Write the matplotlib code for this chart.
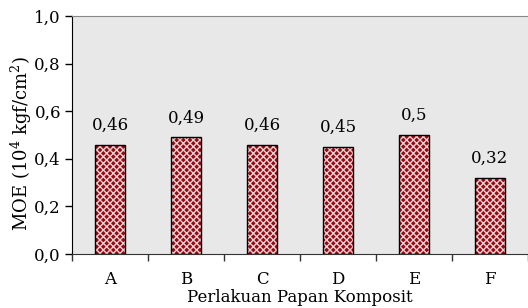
import matplotlib
matplotlib.use("Agg")
import matplotlib.pyplot as plt
import numpy as np

categories = ["A", "B", "C", "D", "E", "F"]
values = [0.46, 0.49, 0.46, 0.45, 0.5, 0.32]
value_labels = ["0,46", "0,49", "0,46", "0,45", "0,5", "0,32"]
yticks = [0.0, 0.2, 0.4, 0.6, 0.8, 1.0]
ytick_labels = ["0,0", "0,2", "0,4", "0,6", "0,8", "1,0"]

plt.rcParams['font.family'] = ['DejaVu Serif']
plt.rcParams['mathtext.fontset'] = 'dejavuserif'
plt.rcParams['hatch.linewidth'] = 1.0

FS = 12

fig = plt.figure(figsize=(5.28, 3.08), dpi=100)
ax = fig.add_axes([72/528, 54/308, 456/528, 238/308])
ax.set_facecolor('#e8e8e8')

x = np.arange(len(categories))
ax.bar(x, values, width=0.4, color='#920a14', edgecolor='#f0d0d0', hatch='xxxxx', linewidth=0, zorder=2)
ax.bar(x, values, width=0.4, fill=False, edgecolor='black', linewidth=1.0, zorder=3)

for xi, v, lab in zip(x, values, value_labels):
    ax.text(xi, v + 0.045, lab, ha='center', va='bottom', fontsize=FS)

ax.set_xlim(-0.5, len(categories) - 0.5)
ax.set_ylim(0, 1.0)
ax.set_yticks(yticks)
ax.set_yticklabels(ytick_labels, fontsize=FS)
ax.set_xticks(np.arange(len(categories) + 1) - 0.5)
ax.set_xticklabels([])
ax.set_xticks(x, minor=True)
ax.set_xticklabels(categories, minor=True, fontsize=FS)
ax.tick_params(axis='x', which='minor', length=0, pad=12)
ax.tick_params(axis='x', which='major', length=5, direction='out', width=1, color='#333333')
ax.tick_params(axis='y', length=5, direction='out', width=1, pad=3)

ax.spines['left'].set_color('black')
ax.spines['bottom'].set_color('#333333')
ax.spines['top'].set_color('#888888')
ax.spines['right'].set_visible(False)

fig.text(21/528, (308-143)/308, "MOE (10$^4$ kgf/cm$^2$)", rotation=90,
         ha='center', va='center', fontsize=13)
fig.text(300/528, 2/308, "Perlakuan Papan Komposit",
         ha='center', va='bottom', fontsize=FS)

fig.savefig("out.png", dpi=100)
